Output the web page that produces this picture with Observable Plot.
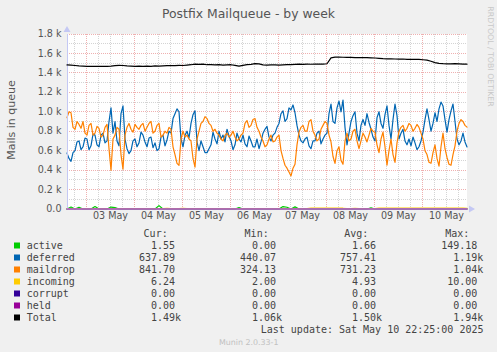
<!DOCTYPE html>
<html><head><meta charset="utf-8">
<script src="https://cdn.jsdelivr.net/npm/d3@7"></script>
<script src="https://cdn.jsdelivr.net/npm/@observablehq/plot@0.6"></script>
<style>
html,body{margin:0;padding:0;background:#f0f0f0;}
#wrap{position:relative;width:497px;height:352px;overflow:hidden;background:#f0f0f0;}
#wrap svg{position:absolute;left:0;top:0;}
</style></head><body><div id="wrap"></div>
<script>
// ---- data: deferred/maildrop hourly, others every 2 h, from 2025-05-02 14:15 UTC to 2025-05-10 22:15 UTC ----
const deferred = [575,520,490,580,600,690,700,610,640,730,720,610,650,770,760,660,640,760,780,680,
  700,900,1040,780,900,700,650,980,1060,720,620,570,600,700,720,640,680,790,760,690,
  640,730,740,630,680,600,620,740,760,650,710,800,780,930,980,1030,1000,720,640,760,
  800,730,880,970,1010,690,600,700,640,580,580,620,660,790,720,670,800,720,760,690,
  820,750,700,610,660,780,720,690,760,670,640,750,700,640,640,720,620,690,780,820,
  850,740,700,760,780,840,880,980,1010,900,930,1040,1020,1070,990,860,760,700,680,720,
  740,650,620,700,700,780,800,670,720,760,780,980,1080,900,880,1040,1110,1000,1120,840,
  660,780,900,960,1000,780,700,860,920,860,980,890,820,740,700,940,1000,880,830,970,
  1060,860,720,920,1080,960,720,780,820,700,660,720,650,740,680,610,640,700,790,920,
  1030,920,800,880,990,900,1030,1100,1060,920,790,920,1010,1080,900,720,660,700,780,690,638];
const maildrop = [940,1000,990,840,820,900,870,830,900,780,760,860,880,760,780,850,830,740,760,840,
  870,620,400,720,760,840,820,560,410,760,840,880,820,790,870,840,820,860,880,800,
  840,880,900,780,800,860,880,740,760,800,780,840,820,640,560,470,450,720,800,740,
  760,720,700,520,430,720,800,880,900,950,930,880,860,800,820,780,760,720,700,760,
  780,740,760,800,740,700,720,760,780,880,910,840,860,920,930,840,800,740,700,640,
  660,720,760,690,700,740,760,600,520,450,420,380,340,420,460,660,790,840,860,800,
  800,900,920,800,760,700,720,820,860,900,880,760,690,540,470,600,640,500,460,700,
  780,700,720,800,820,700,620,700,780,740,690,760,830,800,790,660,580,720,790,640,
  450,600,720,560,480,680,800,840,860,800,830,880,860,800,830,870,840,780,720,600,
  560,480,470,580,660,520,440,640,780,620,530,460,450,560,650,800,880,920,900,860,842];
const total = [1482,1480,1476,1472,1470,1468,1468,1466,1467,1466,
  1468,1470,1474,1478,1476,1472,1470,1468,1470,1466,
  1470,1468,1472,1470,1472,1474,1476,1475,1478,1476,
  1480,1484,1490,1488,1490,1484,1485,1483,1484,1480,
  1482,1484,1478,1470,1478,1485,1488,1495,1492,1482,
  1480,1482,1483,1480,1482,1484,1486,1488,1490,1488,
  1490,1489,1490,1491,1490,1494,1555,1562,1562,1561,
  1560,1560,1558,1558,1556,1556,1555,1553,1550,1546,
  1545,1544,1543,1542,1543,1540,1540,1538,1538,1535,
  1532,1520,1505,1498,1495,1493,1492,1495,1493,1490,1490];
const active = [0,20,0,18,0,0,0,25,0,0,
  0,20,15,0,0,0,0,0,0,0,
  0,0,0,35,0,0,0,0,0,0,
  0,0,0,0,0,0,0,0,0,0,
  0,0,0,15,0,0,0,0,0,0,
  0,0,0,0,25,18,0,22,0,0,
  0,0,0,0,0,0,0,0,0,0,
  0,0,0,0,0,0,12,0,0,0,
  0,0,0,0,0,0,0,0,0,0,
  0,0,0,0,0,0,0,0,0,0,2];
const incoming = [3,3,3,3,3,3,3,3,3,3,
  3,3,3,3,3,3,3,3,3,3,
  3,3,3,3,3,8,3,3,3,8,
  3,3,3,3,3,3,3,3,3,3,
  3,3,3,3,3,3,3,3,3,3,
  3,3,3,3,3,3,3,3,3,3,
  3,10,10,10,10,10,10,10,10,8,
  3,3,8,3,3,3,3,3,9,9,
  9,9,9,9,9,9,9,9,9,9,
  9,9,9,9,9,9,9,9,9,9,6];
const corrupt = [0,0,0,0,0,0,0,0,0,0,0,0,0,0,0,0,0,0,0,0,0,0,0,0,0,0,0,0,0,0,0,0,0,0,0,0,0,0,0,0,0,0,0,0,0,0,0,0,0,0,0,0,0,0,0,0,0,0,0,0,0,0,0,0,0,0,0,0,0,0,0,0,0,0,0,0,0,0,0,0,0,0,0,0,0,0,0,0,0,0,0,0,0,0,0,0,0,0,0,0,0];
const held = [0,0,0,0,0,0,0,0,0,0,0,0,0,0,0,0,0,0,0,0,0,0,0,0,0,0,0,0,0,0,0,0,0,0,0,0,0,0,0,0,0,0,0,0,0,0,0,0,0,0,0,0,0,0,0,0,0,0,0,0,0,0,0,0,0,0,0,0,0,0,0,0,0,0,0,0,0,0,0,0,0,0,0,0,0,0,0,0,0,0,0,0,0,0,0,0,0,0,0,0,0];

const yTicks = [0,200,400,600,800,1000,1200,1400,1600,1800];
const yTickLabels = ["0.0","0.2 k","0.4 k","0.6 k","0.8 k","1.0 k","1.2 k","1.4 k","1.6 k","1.8 k"];
const xDays = [3,4,5,6,7,8,9,10];
const xTickLabels = ["03 May","04 May","05 May","06 May","07 May","08 May","09 May","10 May"];

const legendNames = ["active","deferred","maildrop","incoming","corrupt","held","Total"];
const legendColors = ["#00cc00","#0066b3","#ff8000","#ffcc00","#330099","#990099","#000000"];
const legendCur = ["1.55","637.89","841.70","6.24","0.00","0.00","1.49k"];
const legendMin = ["0.00","440.07","324.13","2.00","0.00","0.00","1.06k"];
const legendAvg = ["1.66","757.41","731.23","4.93","0.00","0.00","1.50k"];
const legendMax = ["149.18","1.19k","1.04k","10.00","0.00","0.00","1.94k"];

const title = "Postfix Mailqueue - by week";
const yLabel = "Mails in queue";
const lastUpdate = "Last update: Sat May 10 22:25:00 2025";
const version = "Munin 2.0.33-1";
const watermark = "RRDTOOL / TOBI OETIKER";

// ---- build ----
const start = Date.UTC(2025, 4, 2, 14, 15);
const spanH = 200;
const end = new Date(start + spanH * 3600e3);
const rows = (arr) => arr.map((v, i) => ({t: new Date(start + i * spanH / (arr.length - 1) * 3600e3), v}));

const dayLines = xDays.map(d => new Date(Date.UTC(2025, 4, d)));
const noonTimes = xDays.map(d => new Date(Date.UTC(2025, 4, d, 12)));
const sixHours = d3.utcHour.every(6).range(new Date(start), end).filter(d => d.getUTCHours() !== 0);
const minorY = d3.range(100, 1800, 200);
const majorY = yTicks.filter(v => v > 0);

const series = [
  [active, legendColors[0]],
  [deferred, legendColors[1]],
  [maildrop, legendColors[2]],
  [incoming, legendColors[3]],
  [corrupt, legendColors[4]],
];
const crisp = {shapeRendering: "crispEdges"};

const chart = Plot.plot({
  width: 497, height: 352,
  marginLeft: 66.5, marginRight: 30.5, marginTop: 33.5, marginBottom: 143.5,
  style: {background: "transparent", fontFamily: "DejaVu Sans", fontSize: "9.6px", color: "#555"},
  x: {type: "utc", domain: [new Date(start), end]},
  y: {domain: [0, 1800]},
  marks: [
    Plot.frame({fill: "white", stroke: "none"}),
    Plot.ruleY(minorY, {stroke: "#d4d4d4", strokeDasharray: "1,1", ...crisp}),
    Plot.ruleX(sixHours, {stroke: "#d4d4d4", strokeDasharray: "1,1", ...crisp}),
    Plot.ruleY(majorY, {stroke: "#efb0b0", strokeDasharray: "1,1", ...crisp}),
    Plot.ruleX(dayLines, {stroke: "#efb0b0", strokeDasharray: "1,1", ...crisp}),
    Plot.axisY({ticks: yTicks, tickSize: 0, tickPadding: 5.5, label: null,
      tickFormat: d => yTickLabels[yTicks.indexOf(d)]}),
    Plot.axisX({ticks: noonTimes, tickSize: 0, tickPadding: 3.5, label: null,
      tickFormat: d => xTickLabels[noonTimes.findIndex(n => +n === +d)]}),
    ...series.map(([arr, c]) => Plot.line(rows(arr), {x: "t", y: "v", stroke: c, strokeWidth: 1.2})),
    Plot.ruleX([new Date(start)], {stroke: "#c4c8f4", strokeWidth: 1, y1: 0, y2: 1800, ...crisp}),
    Plot.line(rows(held), {x: "t", y: "v", stroke: "#b870c8", strokeWidth: 1.6}),
    Plot.line(rows(total), {x: "t", y: "v", stroke: "#000000", strokeWidth: 1.2}),
    Plot.dot([0], {x: () => new Date(start), y: () => 1800, symbol: "triangle", r: 2.6, fill: "#c4c8f4", dy: -4}),
    Plot.dot([0], {x: () => end, y: () => 0, symbol: "triangle", r: 2.6, fill: "#c4c8f4", rotate: 90, dx: 4})
  ]
});
const wrap = document.getElementById("wrap");
wrap.appendChild(chart);

// ---- texts & legend ----
const ov = d3.select(wrap).append("svg").attr("width", 497).attr("height", 352)
  .style("pointer-events", "none");
ov.append("text").attr("x", 248.5).attr("y", 18).attr("text-anchor", "middle")
  .attr("font-family", "DejaVu Sans").attr("font-size", 12.4).attr("fill", "#555").text(title);
ov.append("text").attr("transform", "translate(14.5,120) rotate(-90)").attr("text-anchor", "middle")
  .attr("font-family", "DejaVu Sans").attr("font-size", 11).attr("fill", "#555").text(yLabel);
ov.append("text").attr("transform", "translate(488,56.5) rotate(90)").attr("text-anchor", "middle")
  .attr("font-family", "DejaVu Sans").attr("font-size", 7.8).attr("fill", "#c8c8c8").text(watermark);

const mono = (sel) => sel.attr("font-family", "DejaVu Sans Mono").attr("font-size", 10).attr("fill", "#444");
const headers = ["Cur:", "Min:", "Avg:", "Max:"];
const headerEnds = [167.7, 268.7, 368.3, 469.3];
headers.forEach((h, j) => mono(ov.append("text")).attr("x", headerEnds[j]).attr("y", 237.3)
  .attr("text-anchor", "end").text(h));
const colEnds = [175, 276, 376, 477.3];
const cols = [legendCur, legendMin, legendAvg, legendMax];
legendNames.forEach((n, i) => {
  const y = 249.2 + i * 12;
  ov.append("rect").attr("x", 14).attr("y", y - 6.7).attr("width", 6).attr("height", 6).attr("fill", legendColors[i]);
  mono(ov.append("text")).attr("x", 26.7).attr("y", y).text(n);
  cols.forEach((col, j) => {
    const s = col[i];
    const x = colEnds[j] + (s.endsWith("k") ? 6.02 : 0);
    mono(ov.append("text")).attr("x", x).attr("y", y).attr("text-anchor", "end").text(s);
  });
});
mono(ov.append("text")).attr("x", 483.5).attr("y", 333.3).attr("text-anchor", "end").text(lastUpdate);
ov.append("text").attr("x", 248.7).attr("y", 344.6).attr("text-anchor", "middle")
  .attr("font-family", "DejaVu Sans").attr("font-size", 7.9).attr("fill", "#c0c0c0").text(version);
</script></body></html>
